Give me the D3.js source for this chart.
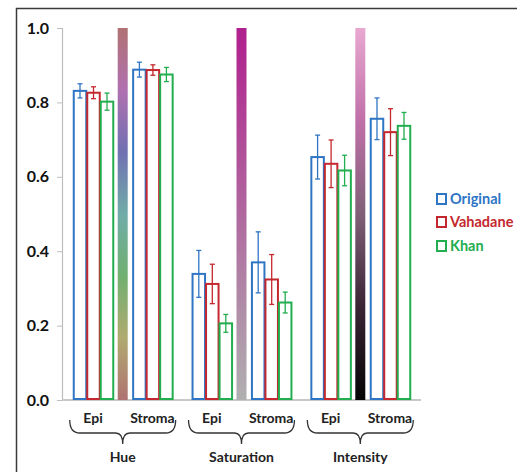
<!DOCTYPE html>
<html>
<head>
<meta charset="utf-8">
<script src="https://cdn.jsdelivr.net/npm/d3@7"></script>
<style>
  body { margin: 0; background: #fff; }
  svg { display: block; font-family: Lato, "Open Sans", sans-serif; font-weight: bold; }
</style>
</head>
<body>
<svg id="chart" width="517" height="472"></svg>
<script>
// data
const groups = ["Hue", "Saturation", "Intensity"];
const regions = ["Epi", "Stroma"];
const series = ["Original", "Vahadane", "Khan"];
const seriesColors = ["#2e75c4", "#c4282e", "#22ad4e"];
// values per [group][region][series]
const means = [
  [[0.831, 0.826, 0.802], [0.888, 0.887, 0.875]],
  [[0.339, 0.312, 0.206], [0.370, 0.324, 0.262]],
  [[0.653, 0.635, 0.617], [0.756, 0.720, 0.737]]
];
const errs = [
  [[0.019, 0.016, 0.023], [0.020, 0.014, 0.019]],
  [[0.063, 0.053, 0.024], [0.082, 0.067, 0.028]],
  [[0.059, 0.064, 0.041], [0.056, 0.063, 0.036]]
];
const yTicks = [0, 0.2, 0.4, 0.6, 0.8, 1.0];
// colour ramps for the separator bars (top -> bottom)
const hueRamp = ["#b07272", "#b070b0", "#7070b2", "#70aca8", "#70b070", "#b0aa70", "#b07272"];
const satRamp = ["#b0208e", "#b0b0b0"];
const intRamp = ["#e8a8d0", "#c070a8", "#806078", "#3a2434", "#050505"];
const ramps = [hueRamp, satRamp, intRamp];

const svg = d3.select("#chart");

// frame
svg.append("path")
  .attr("d", "M16.5,472 L16.5,8.5 L517,8.5")
  .attr("fill", "none")
  .attr("stroke", "#3a3a3a")
  .attr("stroke-width", 1.5);

const x0 = 62, x1 = 421;
const y = d3.scaleLinear().domain([0, 1]).range([400, 28]);

const cats = [];
groups.forEach((g, gi) => regions.forEach((r, ri) => cats.push({ g: gi, r: ri, key: g + "-" + r })));

const x = d3.scaleBand()
  .domain(cats.map(d => d.key))
  .range([x0, x1])
  .paddingInner(0.318)
  .paddingOuter(0.181);

const xs = d3.scaleBand()
  .domain(series)
  .range([0, x.bandwidth()]);

// gradients
const defs = svg.append("defs");
ramps.forEach((ramp, i) => {
  const lg = defs.append("linearGradient")
    .attr("id", "ramp" + i)
    .attr("x1", 0).attr("y1", 0).attr("x2", 0).attr("y2", 1);
  ramp.forEach((c, j) => {
    lg.append("stop")
      .attr("offset", j / (ramp.length - 1))
      .attr("stop-color", c);
  });
});

// y axis
const yAxis = svg.append("g")
  .attr("transform", `translate(${x0},0)`)
  .call(d3.axisLeft(y).tickValues(yTicks).tickFormat(d3.format(".1f")).tickSize(5).tickPadding(8));
yAxis.select(".domain").attr("stroke", "#bdbdbd").attr("stroke-width", 1.2);
yAxis.selectAll(".tick line").attr("stroke", "#bdbdbd");
yAxis.selectAll(".tick text")
  .attr("fill", "#111")
  .style("font-size", "16px")
  .style("font-weight", "bold")
  .style("font-family", "Lato, sans-serif");

// baseline
svg.append("line")
  .attr("x1", x0).attr("x2", x1)
  .attr("y1", y(0)).attr("y2", y(0))
  .attr("stroke", "#c8c8c8")
  .attr("stroke-width", 2);

// separator bars
groups.forEach((g, gi) => {
  const cx = x(g + "-" + regions[1]) - x.step() * x.paddingInner() / 2;
  svg.append("rect")
    .attr("x", cx - 5)
    .attr("y", y(1))
    .attr("width", 10)
    .attr("height", y(0) - y(1))
    .attr("fill", `url(#ramp${gi})`);
});

// bars
cats.forEach(c => {
  series.forEach((s, si) => {
    const v = means[c.g][c.r][si];
    const e = errs[c.g][c.r][si];
    const bx = x(c.key) + xs(s);
    const bw = xs.bandwidth();
    const col = seriesColors[si];
    svg.append("rect")
      .attr("x", bx + 1)
      .attr("y", y(v))
      .attr("width", bw - 1)
      .attr("height", y(0) - y(v) - 1)
      .attr("fill", "#fff")
      .attr("stroke", col)
      .attr("stroke-width", 2);
    const ex = bx + bw / 2 + 0.5;
    svg.append("line")
      .attr("x1", ex).attr("x2", ex)
      .attr("y1", y(v + e)).attr("y2", y(v - e))
      .attr("stroke", col).attr("stroke-width", 1.3);
    [v + e, v - e].forEach(t => {
      svg.append("line")
        .attr("x1", ex - 2.5).attr("x2", ex + 2.5)
        .attr("y1", y(t)).attr("y2", y(t))
        .attr("stroke", col).attr("stroke-width", 1.3);
    });
  });
});

// category labels
cats.forEach(c => {
  svg.append("text")
    .attr("x", x(c.key) + x.bandwidth() / 2)
    .attr("y", 423)
    .attr("text-anchor", "middle")
    .attr("fill", "#222")
    .style("font-size", "14px")
    .text(regions[c.r]);
});

// braces + group labels
groups.forEach(g => {
  const bl = x(g + "-" + regions[0]) - 3;
  const br = x(g + "-" + regions[1]) + x.bandwidth() + 3;
  const mid = (bl + br) / 2;
  const yt = 420, yh = 433, yb = 444;
  svg.append("path")
    .attr("d", `M${bl},${yt} Q${bl},${yh} ${bl + 10},${yh} L${mid - 7},${yh} Q${mid},${yh} ${mid},${yb} Q${mid},${yh} ${mid + 7},${yh} L${br - 10},${yh} Q${br},${yh} ${br},${yt}`)
    .attr("fill", "none")
    .attr("stroke", "#333")
    .attr("stroke-width", 1.3);
  svg.append("text")
    .attr("x", mid)
    .attr("y", 462)
    .attr("text-anchor", "middle")
    .attr("fill", "#222")
    .style("font-size", "14px")
    .text(g);
});

// legend
const legendY = [199, 222, 246];
series.forEach((s, si) => {
  svg.append("rect")
    .attr("x", 437)
    .attr("y", legendY[si] - 5)
    .attr("width", 9)
    .attr("height", 10)
    .attr("fill", "#fff")
    .attr("stroke", seriesColors[si])
    .attr("stroke-width", 2);
  svg.append("text")
    .attr("x", 450)
    .attr("y", legendY[si] + 5)
    .attr("fill", seriesColors[si])
    .style("font-size", "14.5px")
    .text(s);
});
</script>
</body>
</html>
